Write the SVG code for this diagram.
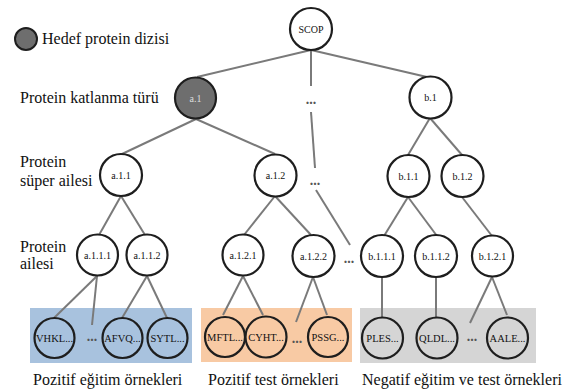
<svg xmlns="http://www.w3.org/2000/svg" width="567" height="390" viewBox="0 0 567 390">
<style>
.n{fill:#fff;stroke:#1e1e1e;stroke-width:2.2}
.lf{stroke:#1e1e1e;stroke-width:2.2}
.t{font-family:"Liberation Serif",serif;font-size:10px;fill:#111;text-anchor:middle}
.s{font-size:10.5px}
.big{font-family:"Liberation Serif",serif;font-size:16px;fill:#111}
.c line{stroke:#7a7a7a;stroke-width:2}
.d{font-family:"Liberation Serif",serif;font-size:14px;fill:#555;text-anchor:middle;font-weight:bold}
</style>
<rect width="567" height="390" fill="#fff"/>
<rect x="30" y="308" width="162" height="55" fill="#a8c2de"/>
<rect x="201" y="308" width="151" height="54" fill="#f8caa4"/>
<rect x="360" y="308" width="176" height="55" fill="#d5d5d5"/>
<g class="c">
<line x1="311" y1="50" x2="197" y2="77"/>
<line x1="311" y1="50" x2="311" y2="86"/>
<line x1="311" y1="50" x2="427" y2="77"/>
<line x1="311" y1="112" x2="315" y2="168"/>
<line x1="316" y1="190" x2="350" y2="245"/>
<line x1="196" y1="119" x2="122" y2="154"/>
<line x1="196" y1="119" x2="275" y2="154"/>
<line x1="430" y1="118" x2="408" y2="155"/>
<line x1="430" y1="118" x2="462" y2="155"/>
<line x1="121" y1="196" x2="99" y2="235"/>
<line x1="121" y1="196" x2="145" y2="235"/>
<line x1="275" y1="196" x2="244" y2="235"/>
<line x1="275" y1="196" x2="311" y2="235"/>
<line x1="408" y1="197" x2="384" y2="236"/>
<line x1="408" y1="197" x2="437" y2="236"/>
<line x1="462" y1="197" x2="492" y2="236"/>
<line x1="97" y1="276" x2="54" y2="318"/>
<line x1="97" y1="276" x2="92" y2="325"/>
<line x1="147" y1="276" x2="122" y2="318"/>
<line x1="147" y1="276" x2="167" y2="318"/>
<line x1="243" y1="276" x2="223" y2="315"/>
<line x1="243" y1="276" x2="263" y2="315"/>
<line x1="313" y1="277" x2="296" y2="322"/>
<line x1="313" y1="277" x2="327" y2="315"/>
<line x1="382" y1="277" x2="382" y2="318"/>
<line x1="436" y1="277" x2="436" y2="318"/>
<line x1="492" y1="277" x2="470" y2="323"/>
<line x1="492" y1="277" x2="507" y2="315"/>
</g>
<g id="legend">
<circle cx="26" cy="39" r="11" fill="#6e6e6e" stroke="#1e1e1e" stroke-width="2"/>
<text class="big" x="42" y="44">Hedef protein dizisi</text>
</g>
<g id="labels">
<text class="big" x="20" y="103">Protein katlanma türü</text>
<text class="big" x="20" y="167">Protein</text>
<text class="big" x="20" y="186">süper ailesi</text>
<text class="big" x="20" y="252">Protein</text>
<text class="big" x="20" y="269">ailesi</text>
<text class="big" x="33" y="385">Pozitif eğitim örnekleri</text>
<text class="big" x="208" y="385">Pozitif test örnekleri</text>
<text class="big" x="362" y="385">Negatif eğitim ve test örnekleri</text>
</g>
<g id="scop"><circle class="n" cx="311" cy="29" r="21"/><text class="t" x="311" y="32.5" font-size="11">SCOP</text></g>
<g id="a1"><circle cx="195.5" cy="98" r="20.5" fill="#6e6e6e" stroke="#1e1e1e" stroke-width="2.2"/><text class="t" x="195.5" y="101.5" style="fill:#ddd">a.1</text></g>
<g id="dots1"><text class="d" x="311" y="104">...</text></g>
<g id="b1"><circle class="n" cx="430.5" cy="97.5" r="21"/><text class="t" x="430.5" y="101">b.1</text></g>
<g id="a11"><circle class="n" cx="121" cy="175" r="21"/><text class="t" x="121" y="178.5">a.1.1</text></g>
<g id="a12"><circle class="n" cx="275.5" cy="175.5" r="21"/><text class="t" x="275.5" y="179">a.1.2</text></g>
<g id="dots2"><text class="d" x="315" y="185">...</text></g>
<g id="b11"><circle class="n" cx="408.5" cy="176" r="21"/><text class="t" x="408.5" y="179.5">b.1.1</text></g>
<g id="b12"><circle class="n" cx="462.5" cy="176" r="21"/><text class="t" x="462.5" y="179.5">b.1.2</text></g>
<g id="a111"><circle class="n" cx="97.5" cy="255" r="20.5"/><text class="t" x="97.5" y="258.5">a.1.1.1</text></g>
<g id="a112"><circle class="n" cx="147" cy="255" r="20.5"/><text class="t" x="147" y="258.5">a.1.1.2</text></g>
<g id="a121"><circle class="n" cx="243" cy="255" r="20.5"/><text class="t" x="243" y="258.5">a.1.2.1</text></g>
<g id="a122"><circle class="n" cx="313.5" cy="256" r="21"/><text class="t" x="313.5" y="259.5">a.1.2.2</text></g>
<g id="dots3"><text class="d" x="349" y="263">...</text></g>
<g id="b111"><circle class="n" cx="382" cy="256" r="21"/><text class="t" x="382" y="259.5">b.1.1.1</text></g>
<g id="b112"><circle class="n" cx="436" cy="256" r="21"/><text class="t" x="436" y="259.5">b.1.1.2</text></g>
<g id="b121"><circle class="n" cx="492.5" cy="256" r="20.5"/><text class="t" x="492.5" y="259.5">b.1.2.1</text></g>
<g id="vhkl"><circle class="lf" cx="54.5" cy="338" r="20" fill="#a8c2de"/><text class="t s" x="54.5" y="341.5">VHKL...</text></g>
<g id="dots4"><text class="d" x="92" y="341">...</text></g>
<g id="afvq"><circle class="lf" cx="122.5" cy="338" r="20" fill="#a8c2de"/><text class="t s" x="122.5" y="341.5">AFVQ...</text></g>
<g id="sytl"><circle class="lf" cx="167.5" cy="338" r="20" fill="#a8c2de"/><text class="t s" x="167.5" y="341.5">SYTL...</text></g>
<g id="mftl"><circle class="lf" cx="225" cy="337" r="20" fill="#f8caa4"/><text class="t s" x="225" y="340.5">MFTL...</text></g>
<g id="cyht"><circle class="lf" cx="266" cy="337" r="20.5" fill="#f8caa4"/><text class="t s" x="266" y="340.5">CYHT...</text></g>
<g id="dots5"><text class="d" x="297" y="343">...</text></g>
<g id="pssg"><circle class="lf" cx="328" cy="337" r="20" fill="#f8caa4"/><text class="t s" x="328" y="340.5">PSSG...</text></g>
<g id="ples"><circle class="lf" cx="382.5" cy="338" r="20.5" fill="#d5d5d5"/><text class="t s" x="382.5" y="341.5">PLES...</text></g>
<g id="qldl"><circle class="lf" cx="437" cy="338" r="20.5" fill="#d5d5d5"/><text class="t s" x="437" y="341.5">QLDL...</text></g>
<g id="dots6"><text class="d" x="472" y="341">...</text></g>
<g id="aale"><circle class="lf" cx="507.5" cy="338" r="20.5" fill="#d5d5d5"/><text class="t s" x="507.5" y="341.5">AALE...</text></g>
</svg>
